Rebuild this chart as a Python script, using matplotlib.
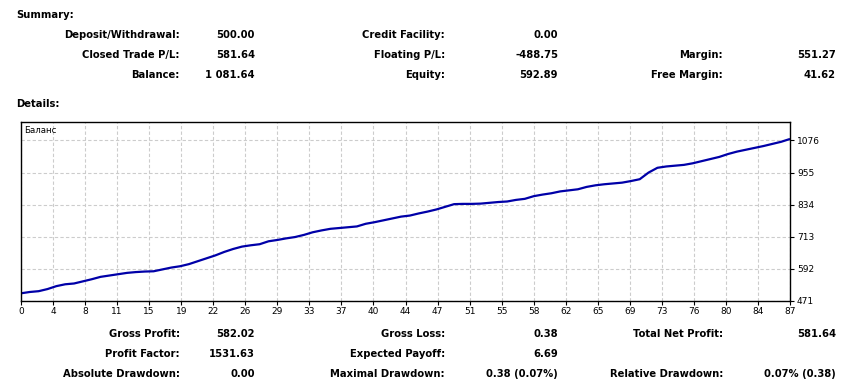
import numpy as np
import matplotlib.pyplot as plt

# balance curve (trade number -> balance)
balance = [500, 505, 508, 516, 527, 534, 537, 545, 553, 562,
           567, 572, 577, 580, 582, 583, 590, 597, 602, 610,
           621, 632, 643, 656, 667, 676, 681, 685, 696, 701,
           707, 712, 720, 730, 737, 743, 746, 749, 752, 762,
           768, 775, 782, 789, 793, 801, 808, 816, 826, 836,
           837, 837, 838, 841, 844, 846, 852, 856, 866, 872,
           877, 884, 888, 892, 901, 907, 911, 914, 917, 923,
           930, 955, 973, 978, 981, 984, 990, 998, 1006, 1014,
           1025, 1034, 1041, 1048, 1055, 1063, 1071, 1081.64]

x_labels = ['0', '4', '8', '11', '15', '19', '22', '26', '29', '33', '37', '40', '44',
            '47', '51', '55', '58', '62', '65', '69', '73', '76', '80', '84', '87']
y_ticks = [471, 592, 713, 834, 955, 1076]

summary = [
    [("Deposit/Withdrawal:", "500.00"), ("Credit Facility:", "0.00"), None],
    [("Closed Trade P/L:", "581.64"), ("Floating P/L:", "-488.75"), ("Margin:", "551.27")],
    [("Balance:", "1 081.64"), ("Equity:", "592.89"), ("Free Margin:", "41.62")],
]
details = [
    [("Gross Profit:", "582.02"), ("Gross Loss:", "0.38"), ("Total Net Profit:", "581.64")],
    [("Profit Factor:", "1531.63"), ("Expected Payoff:", "6.69"), None],
    [("Absolute Drawdown:", "0.00"), ("Maximal Drawdown:", "0.38 (0.07%)"), ("Relative Drawdown:", "0.07% (0.38)")],
]

W, H = 857, 388
plt.rcParams['font.family'] = ['DejaVu Sans']
fig = plt.figure(figsize=(W / 100, H / 100), dpi=100)
fig.patch.set_facecolor('white')

# --- text blocks, pixel coordinates ---
def put(x, y, s, ha='right', bold=True, size=7.2):
    fig.text(x / W, 1 - y / H, s, ha=ha, va='center',
             fontweight='bold' if bold else 'normal', fontsize=size, color='black')

label_x = [180, 445, 723]
value_x = [255, 558, 836]

put(16, 15, "Summary:", ha='left')
for row, y in zip(summary, [35, 55, 75]):
    for c, item in enumerate(row):
        if item:
            put(label_x[c], y, item[0])
            put(value_x[c], y, item[1])

put(16, 104, "Details:", ha='left')
for row, y in zip(details, [334, 354, 374]):
    for c, item in enumerate(row):
        if item:
            put(label_x[c], y, item[0])
            put(value_x[c], y, item[1])

# --- chart ---
left, right, top, bottom = 21, 790, 122, 301
ax = fig.add_axes([left / W, 1 - bottom / H, (right - left) / W, (bottom - top) / H])
n = len(balance) - 1
ax.plot(np.arange(len(balance)), balance, color='#0000a8', lw=1.6, solid_capstyle='butt')
ax.set_xlim(0, n)
step = y_ticks[1] - y_ticks[0]
ax.set_ylim(y_ticks[0], y_ticks[-1] + step * 0.575)

xt = np.linspace(0, n, len(x_labels))
ax.set_xticks(xt)
ax.set_xticklabels(x_labels, fontsize=6.5)
ax.set_yticks(y_ticks)
ax.set_yticklabels([str(v) for v in y_ticks], fontsize=6.5)
ax.yaxis.tick_right()
ax.tick_params(axis='x', length=3, width=0.8, pad=1.5, colors='black')
ax.tick_params(axis='y', length=3, width=0.8, pad=2, colors='black')
ax.grid(True, color='#cccccc', linestyle=(0, (3, 2)), linewidth=0.8)
for sp in ax.spines.values():
    sp.set_linewidth(1.0)
    sp.set_color('black')
ax.text(0.004, 0.95, "Баланс", transform=ax.transAxes, fontsize=6.2,
        ha='left', va='center')

fig.savefig('out.png', dpi=100)
